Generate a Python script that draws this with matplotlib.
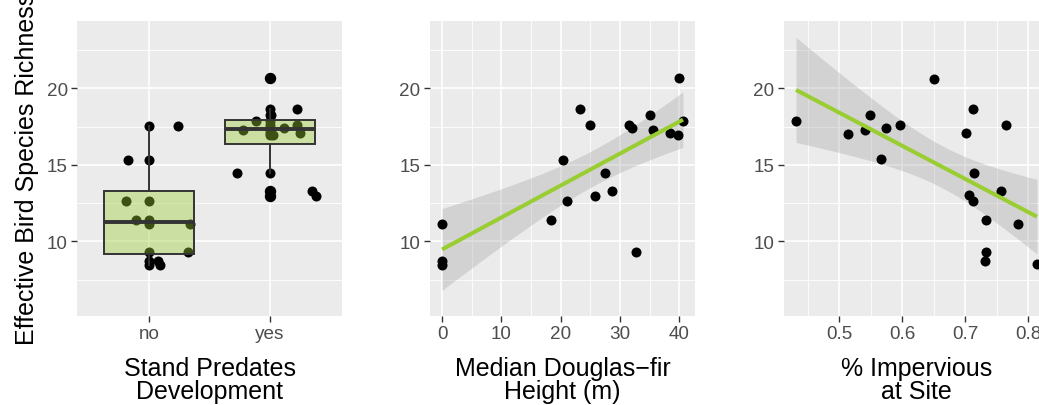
import matplotlib
matplotlib.use("Agg")
import matplotlib.pyplot as plt
import numpy as np

plt.rcParams["font.family"] = ["Liberation Sans", "DejaVu Sans"]

# richness split by whether the stand predates development
group_labels = ["no", "yes"]
rich_no = [17.56, 15.33, 12.65, 11.39, 11.13, 9.28, 8.73, 8.47]
rich_yes = [20.65, 18.65, 18.27, 17.84, 17.60, 17.40, 17.27, 17.08, 16.97, 14.46, 13.27, 12.98]
# horizontal jitter of the second point layer
jitter_no = [0.24, -0.18, -0.19, -0.11, 0.34, 0.32, 0.07, 0.09]
jitter_yes = [0.00, 0.23, 0.01, -0.11, 0.23, 0.12, -0.22, 0.25, 0.03, -0.27, 0.35, 0.38]

# richness vs median Douglas-fir height
height = [0, 0, 0, 18.4, 20.3, 21.0, 23.3, 24.9, 25.8, 27.5, 28.6, 31.5, 32.0, 32.7,
          35.1, 35.5, 38.4, 39.7, 39.9, 40.6]
rich_height = [11.13, 8.73, 8.47, 11.39, 15.33, 12.65, 18.65, 17.60, 12.98, 14.46, 13.27,
               17.62, 17.40, 9.28, 18.27, 17.27, 17.08, 16.97, 20.65, 17.84]

# richness vs impervious fraction
impervious = [0.431, 0.514, 0.540, 0.549, 0.566, 0.574, 0.597, 0.651, 0.701, 0.713, 0.714,
              0.706, 0.713, 0.764, 0.757, 0.733, 0.733, 0.731, 0.784, 0.814]
rich_imperv = [17.84, 16.99, 17.27, 18.24, 15.36, 17.43, 17.58, 20.63, 17.06, 18.63, 14.46,
               13.00, 12.65, 17.58, 13.27, 11.39, 9.28, 8.71, 11.13, 8.50]

GREEN = "#9ACD32"
PANEL_BG = "#EBEBEB"
DOT = 52
TITLE_SIZE = 18


def style_axes(ax, xmajor, xminor):
    ax.set_facecolor(PANEL_BG)
    for s in ax.spines.values():
        s.set_visible(False)
    ax.set_ylim(5.12, 24.4)
    ax.set_yticks([10, 15, 20])
    ax.set_yticks([7.5, 12.5, 17.5, 22.5], minor=True)
    ax.set_xticks(xmajor)
    if xminor:
        ax.set_xticks(xminor, minor=True)
    ax.grid(which="major", color="white", lw=1.2)
    ax.grid(which="minor", color="white", lw=0.6)
    ax.set_axisbelow(True)
    ax.tick_params(which="major", length=4.25, width=1.0, color="#333333",
                   labelsize=13.6, labelcolor="#4D4D4D", pad=2.5)
    ax.tick_params(which="minor", length=0)


def smooth(ax, x, y):
    # linear fit with 95% confidence band, like geom_smooth(method = "lm")
    x = np.asarray(x)
    y = np.asarray(y)
    b1, b0 = np.polyfit(x, y, 1)
    xs = np.linspace(x.min(), x.max(), 80)
    fit = b0 + b1 * xs
    n = len(x)
    resid = y - (b0 + b1 * x)
    s = np.sqrt(np.sum(resid ** 2) / (n - 2))
    se = s * np.sqrt(1 / n + (xs - x.mean()) ** 2 / np.sum((x - x.mean()) ** 2))
    t = 2.101  # t quantile, 18 df
    ax.fill_between(xs, fit - t * se, fit + t * se, color="#999999", alpha=0.3, lw=0, zorder=2)
    ax.plot(xs, fit, color=GREEN, lw=2.9, zorder=4, solid_capstyle="butt")


def expand(v, frac=0.05):
    lo, hi = min(v), max(v)
    pad = (hi - lo) * frac
    return lo - pad, hi + pad


W, H = 1039, 406
fig = plt.figure(figsize=(W / 100, H / 100), dpi=100)


def add_panel(left):
    return fig.add_axes([left / W, (H - 317) / H, 265 / W, 295 / H])


# panel 1: boxplot
ax1 = add_panel(77)
style_axes(ax1, [1, 2], None)
groups = [rich_no, rich_yes]
jitters = [jitter_no, jitter_yes]
for i, (vals, jit) in enumerate(zip(groups, jitters)):
    pos = i + 1
    ax1.scatter([pos] * len(vals), vals, s=DOT, color="black", lw=0, zorder=3)
    ax1.scatter(pos + np.array(jit), vals, s=DOT, color="black", lw=0, zorder=3)
bp = ax1.boxplot(groups, positions=[1, 2], widths=0.75, patch_artist=True,
                 showcaps=False, whis=1.5, zorder=5,
                 boxprops=dict(facecolor=(0.604, 0.804, 0.196, 0.4), edgecolor="#333333", lw=1.4),
                 whiskerprops=dict(color="#333333", lw=1.4),
                 medianprops=dict(color="#333333", lw=2.8),
                 flierprops=dict(marker="o", markerfacecolor="black", markeredgecolor="black",
                                 markersize=7.2))
ax1.set_xlim(0.4, 2.6)
ax1.set_xticks([1, 2])
ax1.set_xticklabels(group_labels)
ax1.set_xlabel("Stand Predates\nDevelopment", fontsize=TITLE_SIZE, linespacing=0.95, labelpad=10)

# panel 2: height
ax2 = add_panel(430)
style_axes(ax2, [0, 10, 20, 30, 40], [5, 15, 25, 35])
ax2.set_xlim(*expand(height))
smooth(ax2, height, rich_height)
ax2.scatter(height, rich_height, s=DOT, color="black", lw=0, zorder=3)
ax2.set_xlabel("Median Douglas\u2212fir\nHeight (m)", fontsize=TITLE_SIZE, linespacing=0.95, labelpad=10)

# panel 3: impervious (runs past the right edge like the original)
ax3 = add_panel(784)
style_axes(ax3, [0.5, 0.6, 0.7, 0.8], [0.45, 0.55, 0.65, 0.75, 0.85])
ax3.set_xlim(*expand(impervious))
smooth(ax3, impervious, rich_imperv)
ax3.scatter(impervious, rich_imperv, s=DOT, color="black", lw=0, zorder=3)
ax3.set_xlabel("% Impervious\nat Site", fontsize=TITLE_SIZE, linespacing=0.95, labelpad=10)

fig.text(27 / W, (H - 345) / H, "Effective Bird Species Richness", rotation=90,
         ha="center", va="bottom", fontsize=TITLE_SIZE)

fig.savefig("out.png", dpi=100)
